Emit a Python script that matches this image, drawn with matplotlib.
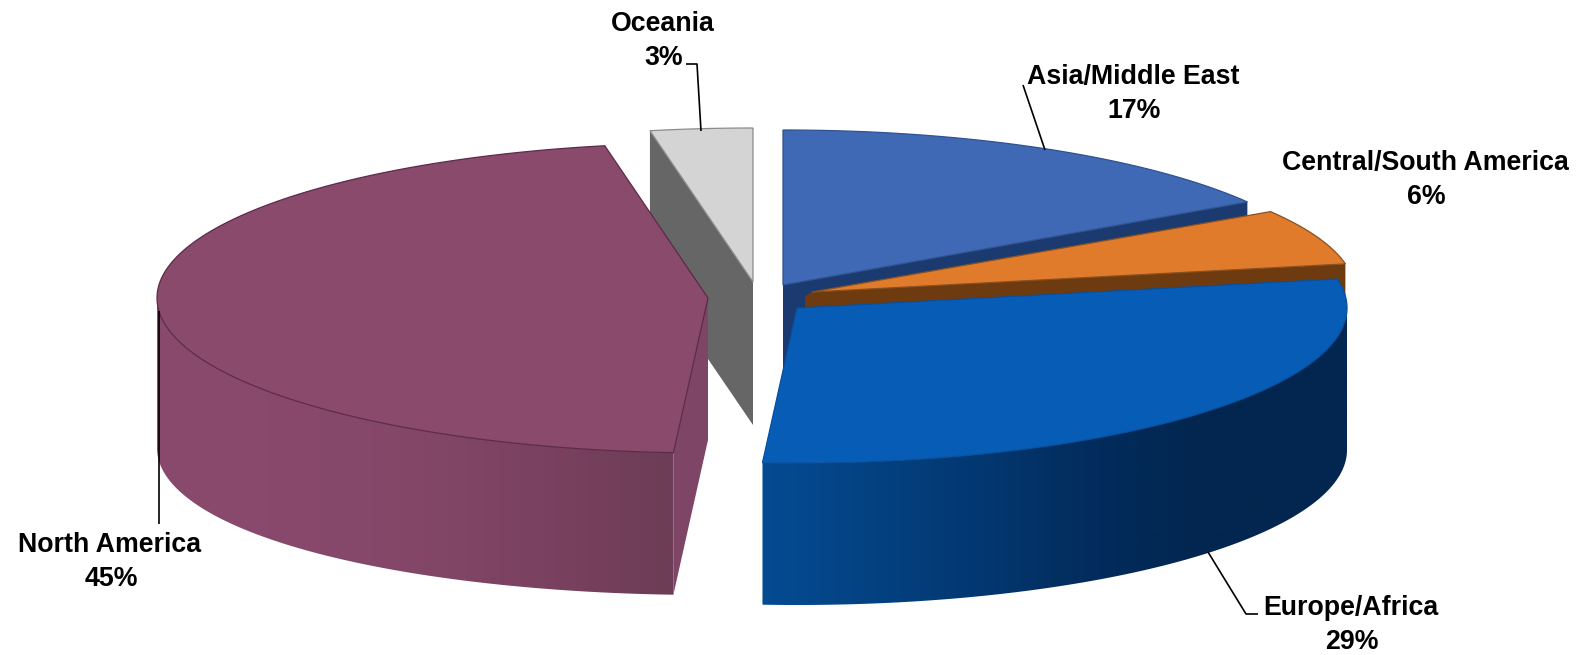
import numpy as np
import matplotlib
matplotlib.use("Agg")
import matplotlib.pyplot as plt
from matplotlib.colors import LinearSegmentedColormap
from matplotlib.patches import Polygon

# ---- data -------------------------------------------------------------
regions = ["Asia/Middle East", "Central/South America", "Europe/Africa", "North America", "Oceania"]
percent_labels = [17, 6, 29, 45, 3]
# shares of the ellipse as they appear in the (distorted) 3-D drawing
drawn_shares = [16.0, 6.0, 29.0, 46.0, 3.0]

top_colors = ["#3f69b5", "#e07b2c", "#075cb6", "#8a4a6b", "#d4d4d4"]
cut_colors = ["#1a3a70", "#6e3a10", "#063f80", "#7f4567", "#666666"]
edge_colors = ["#2f5290", "#8a5020", "#0a4f9c", "#5c2a4a", "#8c8c8c"]

# ---- layout (pixel coordinates of the reference) ----------------------
W, H = 1581, 655
centers = [(783, 285), (812, 292), (797, 308), (708, 298), (753, 282)]
radii_x = [550, 543, 550, 551, 550]
radii_y = [155, 150, 155, 155, 154]
depth = 142

label_xy = [(1133, 77), (1425, 163), (1351, 608), (110, 545), (663, 24)]
leaders = [
    [(1023, 85), (1045, 150)],
    [],
    [(1208, 552), (1246, 614), (1258, 614)],
    [(159, 311), (159, 524)],
    [(686, 64), (697, 64), (701, 131)],
]

fig = plt.figure(figsize=(W / 100, H / 100), dpi=100)
ax = fig.add_axes([0, 0, 1, 1])
ax.set_axis_off()

# slice angles, clockwise from 12 o'clock
cum = np.cumsum([0] + drawn_shares) / sum(drawn_shares) * 360
t_start = 90 - cum[:-1]
t_end = 90 - cum[1:]


def arc(i, t0, t1, n=160, extra=0.0):
    c = centers[i]
    t = np.radians(np.linspace(t0, t1, n))
    return np.column_stack([c[0] + radii_x[i] * np.cos(t),
                            c[1] - radii_y[i] * np.sin(t) + extra * np.cos(t) ** 2])


def point(i, t):
    return arc(i, t, t, n=1)[0]


def top(i, z):
    pts = np.vstack([[centers[i]], arc(i, t_start[i], t_end[i])])
    ax.add_patch(Polygon(pts, closed=True, fc=top_colors[i], ec=edge_colors[i], lw=0.9, zorder=z))


def face(i, points, z, d=depth):
    pts = list(points) + [(x, y + d) for x, y in reversed(points)]
    ax.add_patch(Polygon(pts, closed=True, fc=cut_colors[i], ec="none", zorder=z))


def wall(i, t0, t1, stops, z, flare=0.0):
    upper = arc(i, t0, t1)
    lower = arc(i, t1, t0, extra=flare)
    lower[:, 1] += depth
    outline = np.vstack([upper, lower])
    poly = Polygon(outline, closed=True, fc="none", ec="none", zorder=z)
    ax.add_patch(poly)
    cm = LinearSegmentedColormap.from_list("w", stops)
    im = ax.imshow(np.linspace(0, 1, 256)[None, :], cmap=cm, aspect="auto",
                   extent=(outline[:, 0].min(), outline[:, 0].max(), H, 0),
                   zorder=z, interpolation="bilinear")
    im.set_clip_path(poly)


# Oceania: left cut face, then top
face(4, [point(4, t_start[4]), centers[4]], 1, d=depth + 1)
top(4, 2)

# Asia / Middle East
face(0, [centers[0], point(0, t_end[0])], 3)
top(0, 4)

# Central / South America (its wall starts slightly left of the top-face apex)
face(1, [(805, 296), centers[1], point(1, t_end[1])], 5)
top(1, 6)

# North America
na_corner = point(3, t_start[3])
face(3, [centers[3], na_corner], 7)
wall(3, t_start[3], -180,
     [(0, "#8a4a6e"), (0.42, "#86486a"), (0.75, "#7b4160"), (1, "#6c3d56")], 8, flare=8)
top(3, 9)

# Europe / Africa
wall(2, 0, t_end[2],
     [(0, "#054b92"), (0.33, "#033a75"), (0.55, "#022d5e"), (0.75, "#02264f"), (1, "#02264f")], 11)
top(2, 12)

# labels and leaders
for name, pct, (x, y), line in zip(regions, percent_labels, label_xy, leaders):
    ax.text(x, y, name, ha="center", va="center", fontsize=19.3, fontweight="bold",
            family="Liberation Sans", color="black", zorder=20)
    ax.text(x + 1, y + 34, f"{pct}%", ha="center", va="center", fontsize=19.3, fontweight="bold",
            family="Liberation Sans", color="black", zorder=20)
    if line:
        xs, ys = zip(*line)
        ax.plot(xs, ys, color="black", lw=1.2, zorder=19, solid_capstyle="butt")

ax.set_xlim(0, W)
ax.set_ylim(H, 0)
fig.savefig("out.png", dpi=100, facecolor="white")
